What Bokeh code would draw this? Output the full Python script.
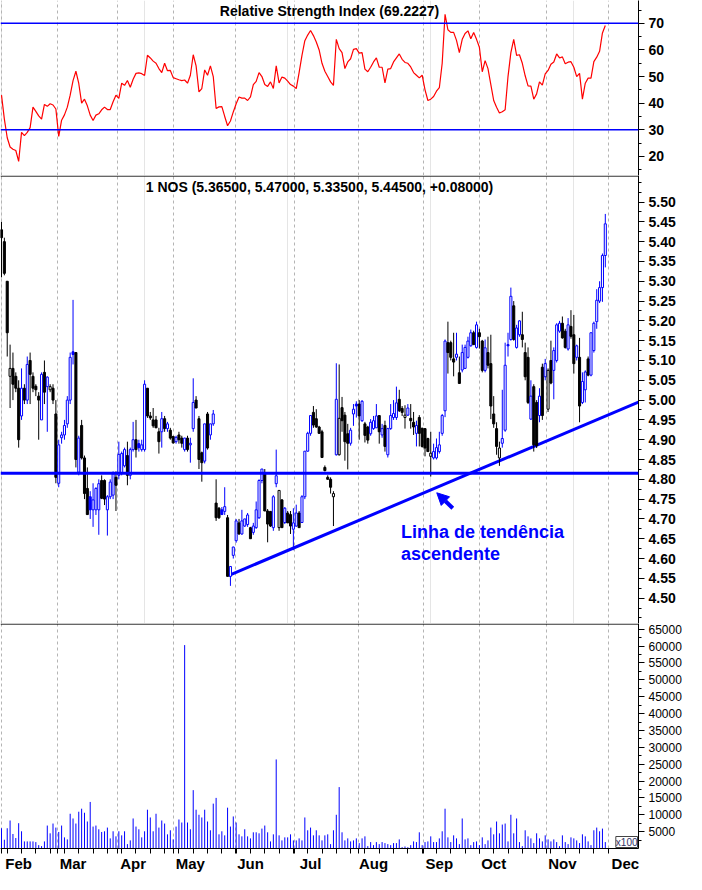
from bokeh.plotting import figure
from bokeh.layouts import column
from bokeh.models import (ColumnDataSource, Range1d, FixedTicker, Span, Label,
                          Arrow, NormalHead, Grid, PrintfTickFormatter)
from bokeh.embed import file_html
from bokeh.resources import INLINE

# ---------------- data ----------------
opens = [
    5.43, 5.40, 5.30, 5.06, 5.08, 5.06, 5.03, 4.96, 5.03, 5.00, 5.10, 5.06, 5.035, 5.01, 4.95, 5.07, 5.034, 5.026, 5.03, 4.965,
    4.79, 4.905, 4.912, 4.94, 5.00, 5.122, 5.12, 4.818, 4.936, 4.854, 4.777, 4.756, 4.723, 4.723, 4.723, 4.797, 4.797, 4.723, 4.756, 4.76,
    4.805, 4.81, 4.815, 4.834, 4.86, 4.81, 4.875, 4.90, 4.89, 4.875, 4.875, 5.03, 4.96, 4.95, 4.95, 4.92, 4.92, 4.953, 4.928, 4.924,
    4.908, 4.895, 4.912, 4.904, 4.875, 4.904, 4.887, 4.928, 5.00, 4.953, 4.867, 4.846, 4.965, 4.912, 4.94,
    4.74, 4.727, 4.723, 4.719, 4.703, 4.555, 4.608, 4.645, 4.69, 4.662, 4.682, 4.686, 4.678, 4.666, 4.678, 4.703, 4.797, 4.814, 4.72, 4.719,
    4.678, 4.789, 4.678, 4.748, 4.691, 4.715, 4.711, 4.674, 4.682, 4.715, 4.691, 4.756, 4.871, 4.916, 4.969, 4.953, 4.932, 4.92, 4.83, 4.805,
    4.80, 4.756,
    4.862, 4.862, 4.981, 4.962, 4.915, 4.891, 4.965, 4.99, 4.99, 4.948, 4.94, 4.932, 4.915, 4.928, 4.93, 4.961, 4.912, 4.936, 4.862, 4.928,
    4.956, 4.956, 5.002, 4.979, 4.956, 4.962, 4.954, 4.944, 4.916, 4.956, 4.929, 4.928, 4.903, 4.858, 4.854, 4.854, 4.87, 4.916, 4.973, 5.145,
    5.145, 5.104, 5.108, 5.069, 5.076, 5.08, 5.108, 5.137, 5.17, 5.133, 5.17, 5.149, 5.075,
    5.12, 5.092, 4.965, 4.928, 4.854, 4.891, 4.924, 5.14, 5.153, 5.238,
    5.133, 5.165, 5.165, 5.12, 5.108, 4.952, 5.034, 4.994, 4.961, 5.083,
    5.059, 4.977, 5.10, 5.075, 5.10, 5.174, 5.194, 5.174, 5.129, 5.186,
    5.165, 5.108, 5.108, 4.994, 5.026, 5.104, 5.063, 5.125, 5.198, 5.25,
    5.284, 5.365,
]
highs = [
    5.45, 5.41, 5.30, 5.14, 5.12, 5.07, 5.05, 5.08, 5.04, 5.11, 5.12, 5.07, 5.04, 5.02, 5.07, 5.10, 5.06, 5.04, 5.04, 5.00,
    4.90, 4.92, 4.95, 5.01, 5.12, 5.253, 5.12, 4.91, 4.95, 4.86, 4.83, 4.77, 4.79, 4.78, 4.80, 4.81, 4.80, 4.76, 4.80, 4.82,
    4.82, 4.895, 4.87, 4.88, 4.895, 4.88, 4.945, 4.95, 4.90, 4.90, 5.05, 5.03, 4.97, 4.98, 4.96, 4.93, 4.97, 4.96, 4.945, 4.93,
    4.91, 4.91, 4.92, 4.91, 4.905, 4.91, 4.905, 5.055, 5.01, 4.96, 4.87, 4.94, 4.97, 4.94, 4.975,
    4.80, 4.73, 4.73, 4.78, 4.71, 4.58, 4.63, 4.70, 4.70, 4.723, 4.70, 4.715, 4.68, 4.69, 4.744, 4.80, 4.826, 4.826, 4.725, 4.72,
    4.76, 4.875, 4.772, 4.75, 4.73, 4.72, 4.72, 4.727, 4.736, 4.72, 4.76, 4.87, 4.92, 4.96, 4.985, 4.977, 4.935, 4.925, 4.835, 4.81,
    4.805, 4.77,
    5.093, 5.09, 5.008, 4.97, 4.94, 4.93, 4.99, 4.997, 5.00, 5.00, 4.945, 4.935, 4.952, 4.96, 4.99, 4.961, 4.94, 4.948, 4.93, 4.99,
    5.00, 5.034, 5.026, 4.985, 4.987, 4.99, 4.99, 4.97, 4.948, 4.962, 4.93, 4.928, 4.905, 4.92, 4.89, 4.903, 4.92, 4.965, 5.153, 5.198,
    5.15, 5.17, 5.17, 5.11, 5.14, 5.14, 5.16, 5.178, 5.175, 5.198, 5.18, 5.152, 5.153,
    5.16, 5.165, 5.01, 4.944, 4.895, 5.026, 5.145, 5.17, 5.284, 5.25,
    5.19, 5.202, 5.223, 5.145, 5.133, 5.05, 5.04, 5.00, 5.03, 5.092,
    5.104, 5.08, 5.15, 5.133, 5.194, 5.20, 5.211, 5.18, 5.207, 5.227,
    5.215, 5.14, 5.157, 5.07, 5.075, 5.11, 5.17, 5.198, 5.28, 5.30,
    5.37, 5.47,
]
lows = [
    5.31, 5.315, 5.11, 4.98, 5.00, 5.02, 4.88, 4.95, 4.99, 4.99, 4.99, 5.02, 5.01, 4.90, 4.95, 4.99, 4.92, 5.02, 4.99, 4.79,
    4.78, 4.89, 4.90, 4.93, 4.99, 5.09, 4.83, 4.81, 4.85, 4.75, 4.71, 4.70, 4.68, 4.71, 4.66, 4.75, 4.735, 4.658, 4.75, 4.75,
    4.72, 4.80, 4.81, 4.83, 4.785, 4.80, 4.87, 4.855, 4.87, 4.87, 4.87, 4.955, 4.95, 4.93, 4.93, 4.865, 4.88, 4.92, 4.92, 4.90,
    4.89, 4.89, 4.89, 4.88, 4.87, 4.87, 4.842, 4.92, 4.98, 4.826, 4.794, 4.84, 4.875, 4.90, 4.935,
    4.695, 4.70, 4.71, 4.71, 4.555, 4.531, 4.60, 4.64, 4.66, 4.66, 4.68, 4.68, 4.65, 4.66, 4.675, 4.70, 4.79, 4.72, 4.641, 4.68,
    4.67, 4.78, 4.67, 4.678, 4.687, 4.69, 4.662, 4.621, 4.68, 4.678, 4.69, 4.75, 4.87, 4.91, 4.93, 4.93, 4.916, 4.855, 4.82, 4.80,
    4.764, 4.682,
    4.86, 4.86, 4.92, 4.847, 4.825, 4.885, 4.935, 4.956, 4.90, 4.945, 4.893, 4.89, 4.91, 4.925, 4.93, 4.89, 4.905, 4.87, 4.855, 4.925,
    4.95, 4.95, 4.97, 4.96, 4.928, 4.96, 4.928, 4.912, 4.883, 4.883, 4.88, 4.858, 4.87, 4.807, 4.85, 4.85, 4.865, 4.91, 4.957, 5.067,
    5.10, 5.06, 5.10, 5.042, 5.07, 5.08, 5.105, 5.135, 5.14, 5.13, 5.13, 5.07, 5.07,
    5.08, 4.952, 4.93, 4.862, 4.834, 4.88, 4.92, 5.11, 5.15, 5.15,
    5.13, 5.16, 5.133, 5.05, 4.99, 4.95, 4.87, 4.879, 4.944, 4.95,
    5.05, 4.97, 5.04, 5.002, 5.095, 5.17, 5.155, 5.13, 5.125, 5.155,
    5.067, 5.10, 4.944, 4.99, 4.994, 5.06, 5.06, 5.12, 5.18, 5.245,
    5.248, 5.335,
]
closes = [
    5.41, 5.32, 5.17, 5.08, 5.04, 5.03, 4.90, 5.03, 5.00, 5.09, 5.065, 5.03, 5.026, 5.00, 5.065, 5.02, 5.058, 5.034, 5.00, 4.805,
    4.887, 4.912, 4.936, 5.00, 5.108, 5.115, 4.85, 4.904, 4.854, 4.764, 4.711, 4.723, 4.748, 4.777, 4.789, 4.752, 4.750, 4.756, 4.793, 4.814,
    4.785, 4.863, 4.865, 4.875, 4.81, 4.875, 4.90, 4.875, 4.88, 4.887, 5.04, 4.96, 4.955, 4.935, 4.93, 4.895, 4.953, 4.928, 4.94, 4.904,
    4.892, 4.906, 4.90, 4.891, 4.904, 4.875, 4.891, 4.994, 4.98, 4.85, 4.842, 4.94, 4.879, 4.94, 4.965,
    4.703, 4.703, 4.711, 4.731, 4.555, 4.58, 4.629, 4.695, 4.662, 4.695, 4.70, 4.71, 4.65, 4.682, 4.723, 4.797, 4.826, 4.72, 4.687, 4.682,
    4.756, 4.809, 4.772, 4.678, 4.727, 4.69, 4.682, 4.69, 4.715, 4.678, 4.756, 4.871, 4.916, 4.961, 4.937, 4.932, 4.916, 4.855, 4.822, 4.80,
    4.78, 4.764,
    5.002, 4.954, 4.948, 4.895, 4.891, 4.924, 4.977, 4.985, 4.96, 4.997, 4.911, 4.899, 4.944, 4.948, 4.96, 4.92, 4.928, 4.883, 4.928, 4.961,
    4.966, 4.993, 4.973, 4.969, 4.962, 4.98, 4.948, 4.932, 4.936, 4.916, 4.883, 4.879, 4.87, 4.866, 4.87, 4.88, 4.887, 4.961, 5.149, 5.12,
    5.108, 5.096, 5.116, 5.042, 5.12, 5.133, 5.149, 5.17, 5.14, 5.19, 5.16, 5.075, 5.132,
    5.088, 4.985, 4.94, 4.883, 4.879, 4.903, 5.088, 5.137, 5.262, 5.153,
    5.182, 5.20, 5.153, 5.059, 4.994, 5.01, 4.887, 4.885, 5.01, 4.961,
    5.092, 5.075, 5.043, 5.125, 5.19, 5.194, 5.157, 5.133, 5.19, 5.161,
    5.092, 5.137, 4.985, 5.047, 5.071, 5.063, 5.17, 5.194, 5.252, 5.284,
    5.365, 5.445,
]
rsi = [
    43, 34, 27, 23.5, 22.7, 22.2, 18.1, 29, 27.8, 29,
    30.8, 38.5, 36.9, 35.2, 34, 39.5, 38.8, 39.8, 39.3, 37.8,
    27.5, 33.6, 35.6, 38.5, 43, 48.5, 52, 47.4, 40, 41.5,
    39, 35.5, 33.5, 35.5, 36, 37.5, 38.5, 37.6, 37.6, 40.5,
    43, 41.8, 47.5, 46.7, 48.5, 46, 49, 51.2, 51.4, 51.1,
    50.4, 58, 57, 55.8, 55, 53, 51.5, 55, 52.2, 52.3,
    49.6, 49.2, 48.8, 48.5, 48.7, 47.5, 50.5, 58.2, 54, 44.2,
    45.5, 52.5, 50.5, 54, 50, 38, 38.6, 38.7, 35, 31.5,
    33.3, 36.7, 39.8, 42.3, 41.9, 41.9, 41, 42.4, 47, 48.2,
    51.5, 50, 47, 46.3, 48, 45.5, 54, 47.6, 49.8, 49.4,
    48.3, 47, 46.4, 45.5, 51.5, 58, 63.5, 65.6, 67.3, 65.4,
    63, 60, 55, 52, 50, 48, 46.7, 64, 60.5, 59,
    53, 55.5, 56.7, 60.2, 60.5, 58.8, 59, 52.8, 51.8, 53.5,
    55.5, 57, 53.5, 53.5, 47.6, 52.8, 53, 55.5, 57, 58.5,
    56.5, 55.3, 55, 53.6, 51.5, 50.5, 49.5, 50.5, 45, 41,
    41.5, 42.5, 44.5, 45.8, 55, 73.4, 67.6, 66.6, 66.6, 63.6,
    59, 64, 66.2, 67.2, 64.2, 66.6, 64, 61, 51.8, 56,
    53, 47, 41, 38.5, 36.3, 36.8, 37.5, 50, 59, 64,
    58, 58.2, 55, 50.3, 46.5, 46.4, 41.5, 43.5, 48, 46.8,
    51, 52.3, 54.6, 55.5, 58.5, 57, 57.4, 54.8, 55.4, 55.6,
    53.5, 50, 51.2, 41.5, 47.5, 49.4, 49.4, 55.6, 57.3, 59.5,
    66.4, 69.2227,
]
# volume in units of x100
volume = [
    6000, 2600, 6000, 8300, 4300, 3100, 7500, 5100, 2100, 2100,
    2100, 2100, 1900, 1000, 700, 2100, 6800, 4500, 7400, 6200,
    4900, 6800, 3300, 2700, 10300, 8900, 7400, 10900, 11800, 10600,
    8000, 13800, 6500, 6800, 5700, 4900, 5100, 6200, 3000, 5100,
    3600, 5100, 3900, 5100, 1300, 2400, 8900, 6500, 5700, 3300,
    5100, 11500, 9200, 5100, 10300, 6200, 8300, 7400, 4200, 5400,
    2700, 6500, 8600, 7700, 60300, 7700, 5700, 17300, 11500, 10000,
    9200, 11500, 8000, 5400, 13300, 15000, 4200, 5100, 3900, 12100,
    6500, 9500, 7700, 4200, 3600, 5700, 3600, 3000, 4800, 4800,
    4500, 5900, 6800, 4800, 2100, 4200, 26400, 3900, 2400, 3300,
    3300, 4200, 2400, 2400, 3000, 2400, 9200, 5400, 6200, 3900,
    5400, 3900, 2400, 3900, 4200, 1300, 5400, 10000, 18200, 4800,
    2400, 3000, 2100, 2400, 3000, 1600, 3000, 3600, 700, 1900,
    1000, 1900, 1300, 1900, 1600, 1300, 1000, 1600, 1600, 2700,
    400, 600, 400, 1000, 2100, 1900, 4800, 1000, 1900, 2100,
    3600, 1900, 1900, 3000, 5100, 11800, 3300, 1900, 3900, 3000,
    1300, 8900, 2700, 3000, 1000, 1900, 2100, 1000, 3300, 1300,
    2400, 6200, 4200, 8000, 4500, 7100, 7400, 2100, 10000, 4500,
    8900, 1900, 700, 5400, 3600, 3000, 1600, 4500, 3000, 2100,
    3900, 2700, 2100, 2700, 1900, 700, 3900, 1900, 1300, 3300,
    3000, 2400, 1600, 4200, 3600, 2100, 1000, 5400, 6200, 5100,
    5900, 1900,
]

month_names = ["Feb", "Mar", "Apr", "May", "Jun", "Jul", "Aug", "Sep", "Oct", "Nov", "Dec"]
month_starts = [0, 19.7, 40.4, 60.0, 81.8, 102.4, 124.8, 147.3, 167.0, 190.5, 212.2]

rsi_levels = [70, 30]
rsi_ticks = [20, 30, 40, 50, 60, 70]
price_ticks = [4.50, 4.55, 4.60, 4.65, 4.70, 4.75, 4.80, 4.85, 4.90, 4.95,
               5.00, 5.05, 5.10, 5.15, 5.20, 5.25, 5.30, 5.35, 5.40, 5.45, 5.50]
volume_ticks = [5000, 10000, 15000, 20000, 25000, 30000, 35000, 40000,
                45000, 50000, 55000, 60000, 65000]

support_level = 4.815
trend_x = [79.3, 222.6]
trend_y = [4.557, 4.995]
arrow_from = (157.7, 4.727)
arrow_to = (152.1, 4.766)
note_lines = ["Linha de tendência", "ascendente"]
note_x = 139.6
note_y = [4.666, 4.611]

rsi_title = "Relative Strength Index (69.2227)"
price_title = "1 NOS (5.36500, 5.47000, 5.33500, 5.44500, +0.08000)"
volume_unit = "x100"

x_view = (-0.35, 222.6)
rsi_view = (12.8, 78.6)
price_view = (4.436, 5.567)
volume_view = (0, 66700)

# ---------------- derived ----------------
n = len(closes)
assert len(opens) == n and len(highs) == n and len(lows) == n
assert len(rsi) == n and len(volume) == n
bars = list(range(n))

BLUE = "#0000ff"
BLACK = "#000000"
RED = "#ff0000"
GRID = "#b4b4b4"
FONT = "Liberation Sans"

colors, fills, tops, bottoms = [], [], [], []
for i in range(n):
    prev = closes[i - 1] if i > 0 else opens[i]
    c = BLUE if closes[i] > prev else BLACK
    colors.append(c)
    fills.append("white" if closes[i] > opens[i] else c)
    t = max(opens[i], closes[i])
    b = min(opens[i], closes[i])
    if t - b < 0.003:
        t = b + 0.003
    tops.append(t)
    bottoms.append(b)

candles = ColumnDataSource(dict(x=bars, high=highs, low=lows, top=tops, bottom=bottoms,
                                color=colors, fill=fills))
vols = ColumnDataSource(dict(x=bars, v=volume, z=[0] * n))

x_range = Range1d(*x_view)
W = 686
RIGHT = 48

RSI_H = 175
PRICE_H = 448
VOL_H = 251


def make_fig(height, yview, with_x=False, bottom=0):
    p = figure(width=W, height=height, x_range=x_range, y_range=Range1d(*yview),
               output_backend="svg", toolbar_location=None, tools="",
               y_axis_location="right",
               x_axis_location="below" if with_x else None,
               min_border_left=0, min_border_right=RIGHT, min_border_top=0,
               min_border_bottom=bottom, outline_line_color=None,
               background_fill_color="white", border_fill_color="white")
    p.ygrid.grid_line_color = None
    if with_x:
        g = p.xgrid[0]
        g.ticker = FixedTicker(ticks=month_starts)
    else:
        g = Grid(dimension=0, ticker=FixedTicker(ticks=month_starts))
        p.add_layout(g)
    g.grid_line_color = GRID
    g.grid_line_dash = "3 3"
    g.grid_line_width = 1
    return p


def style_y(p, ticks, minor, size, bold, fmt=None):
    ax = p.yaxis[0]
    ax.ticker = FixedTicker(ticks=ticks, minor_ticks=minor)
    ax.axis_line_color = "black"
    ax.major_tick_out = 6
    ax.major_tick_in = 0
    ax.minor_tick_out = 3
    ax.minor_tick_in = 0
    ax.major_label_standoff = 4
    ax.major_label_text_font = FONT
    ax.major_label_text_font_size = size
    ax.major_label_text_font_style = "bold" if bold else "normal"
    ax.major_label_text_color = "black"
    if fmt:
        ax.formatter = PrintfTickFormatter(format=fmt)


# ---- RSI panel ----
p_rsi = make_fig(RSI_H, rsi_view)
style_y(p_rsi, rsi_ticks, list(range(15, 80, 5)), "14px", True)
for lvl in rsi_levels:
    p_rsi.add_layout(Span(location=lvl, dimension="width", line_color=BLUE, line_width=1.5))
p_rsi.line(bars, rsi, line_color=RED, line_width=1.2)
p_rsi.add_layout(Label(x=(x_view[0] + x_view[1]) / 2 + 3.5, y=74.6, text=rsi_title,
                       text_align="center", text_baseline="middle", text_font=FONT,
                       text_font_size="14px", text_font_style="bold", text_color="black"))

# ---- price panel ----
p_price = make_fig(PRICE_H, price_view)
price_minor = [round(4.45 + 0.025 * k, 3) for k in range(45)]
style_y(p_price, price_ticks, price_minor, "14px", True, "%.2f")
price_px = (price_view[1] - price_view[0]) / PRICE_H
p_price.add_layout(Span(location=price_view[1] - 0.6 * price_px, dimension="width",
                        line_color="black", line_width=1))
p_price.add_layout(Span(location=support_level, dimension="width", line_color=BLUE, line_width=3))
p_price.line(trend_x, trend_y, line_color=BLUE, line_width=3)
p_price.segment(x0="x", y0="low", x1="x", y1="high", line_color="color", line_width=1, source=candles)
p_price.vbar(x="x", top="top", bottom="bottom", width=0.72, fill_color="fill",
             line_color="color", line_width=1, source=candles)
p_price.add_layout(Arrow(end=NormalHead(size=12, fill_color=BLUE, line_color=BLUE, line_width=1),
                         x_start=arrow_from[0], y_start=arrow_from[1],
                         x_end=arrow_to[0], y_end=arrow_to[1],
                         line_color=BLUE, line_width=4))
for txt, yy in zip(note_lines, note_y):
    p_price.add_layout(Label(x=note_x, y=yy, text=txt, text_align="left", text_baseline="middle",
                             text_font=FONT, text_font_size="18px", text_font_style="bold",
                             text_color=BLUE))
p_price.add_layout(Label(x=(x_view[0] + x_view[1]) / 2, y=5.5375, text=price_title,
                         text_align="center", text_baseline="middle", text_font=FONT,
                         text_font_size="14px", text_font_style="bold", text_color="black"))

# ---- volume panel ----
p_vol = make_fig(VOL_H, volume_view, with_x=True, bottom=0)
style_y(p_vol, volume_ticks, list(range(2500, 67500, 2500)), "12px", False, "%d")
vol_px = (volume_view[1] - volume_view[0]) / 222
p_vol.add_layout(Span(location=volume_view[1] - 0.6 * vol_px, dimension="width",
                      line_color="black", line_width=1))
p_vol.segment(x0="x", y0="z", x1="x", y1="v", line_color=BLUE, line_width=1, source=vols)

label_ticks = [int(round(m + 5.5)) for m in month_starts]
week_ticks = list(range(2, 212, 5)) + month_starts
xa = p_vol.xaxis[0]
xa.ticker = FixedTicker(ticks=label_ticks, minor_ticks=week_ticks)
xa.major_label_overrides = {t: name for t, name in zip(label_ticks, month_names)}
xa.axis_line_color = "black"
xa.major_tick_out = 0
xa.major_tick_in = 0
xa.minor_tick_out = 5
xa.minor_tick_in = 0
xa.major_label_standoff = 1
xa.major_label_text_font = FONT
xa.major_label_text_font_size = "15px"
xa.major_label_text_font_style = "bold"
xa.major_label_text_color = "black"

# small unit box at the foot of the volume scale (kept inside the frame)
p_vol.add_layout(Label(x=x_view[1], y=volume_view[0], x_offset=-1, y_offset=1,
                       text=volume_unit, text_align="right", text_baseline="bottom",
                       text_font=FONT, text_font_size="10px", text_color="#333366",
                       border_line_color="#444444", border_line_width=1,
                       background_fill_color="white"))

layout = column(p_rsi, p_price, p_vol, spacing=0)
open("out.html", "w").write(file_html(layout, INLINE))
